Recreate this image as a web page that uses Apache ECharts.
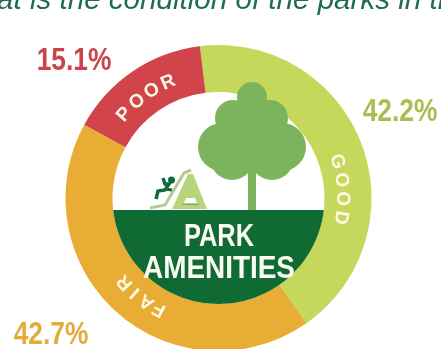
<!DOCTYPE html>
<html><head><meta charset="utf-8">
<style>html,body{margin:0;padding:0;background:#fff}#c{width:441px;height:349px}</style>
<script src="https://cdn.jsdelivr.net/npm/echarts@6/dist/echarts.min.js"></script>
</head><body><div id="c"></div>
<script>
const categories = ['GOOD', 'FAIR', 'POOR'];
const values = [42.2, 42.7, 15.1];
const colors = ['#c5d85c', '#e9ac35', '#d1444a'];
const valueColors = ['#a9bd50', '#e3aa3c', '#c9444b'];
const valueLabelSpots = [[400, 112], [51, 335], [74, 61]];
const ringLabelAngles = [86, 218, -36];
const ringLabelSpacing = [8.7, 6.6, 8.3];
const ringLabelRadius = [124, 126, 126];
const titleText = 'at is the condition of the parks in th';
const centerLines = ['PARK', 'AMENITIES'];

const cx = 218.5, cy = 198, rIn = 106, rOut = 153;
const sans = '"Liberation Sans",sans-serif';
const g = [];

// page heading, cropped by the top of the picture
g.push({type:'text', x:-3, y:15, z:5, scaleX:1.02, silent:true, style:{text:titleText, font:'italic 500 29px ' + sans, fill:'#1f6e4b', textVerticalAlign:'bottom', textAlign:'left'}});

// ground
const groundY = 210, pts = [];
const a0 = Math.asin((groundY - cy) / rIn);
for (let i = 0; i <= 60; i++) {
  const a = a0 + (Math.PI - 2 * a0) * i / 60;
  pts.push([cx + rIn * Math.cos(a), cy + rIn * Math.sin(a)]);
}
g.push({type:'polygon', silent:true, z:5, shape:{points:pts}, style:{fill:'#0f6a33'}});

// tree
const treeC = '#7cb45e';
[[252,97,15],[233,118,18],[270,118,18],[222,147,24],[282,147,24],[252,135,35],[232,158,22],[272,158,22]].forEach(c =>
  g.push({type:'circle', silent:true, z:6, shape:{cx:c[0], cy:c[1], r:c[2]}, style:{fill:treeC}}));
g.push({type:'rect', silent:true, z:6, shape:{x:248, y:170, width:8, height:40}, style:{fill:treeC}});

// slide
const slideC = '#b7d57c';
g.push({type:'polygon', silent:true, z:6, shape:{points:[[188,174],[193,174],[207,209],[172,209]]}, style:{fill:slideC}});
g.push({type:'polygon', silent:true, z:6, shape:{points:[[186,198],[195,198],[197,203],[184,203]]}, style:{fill:'#fff'}});
g.push({type:'line', silent:true, z:6, shape:{x1:182,y1:204.5,x2:199,y2:204.5}, style:{stroke:'#8f9d7c',lineWidth:1}});
g.push({type:'polyline', silent:true, z:6, shape:{points:[[150,208],[165,205],[184,173],[191,170]]}, style:{stroke:'#b5c89a',lineWidth:3,fill:'none'}});
g.push({type:'circle', silent:true, z:6, shape:{cx:171.5, cy:180, r:3.5}, style:{fill:'#11693a'}});
g.push({type:'polyline', silent:true, z:6, shape:{points:[[163,178],[165,184],[169,184],[165,190],[158,191],[156,199]]}, style:{stroke:'#11693a',lineWidth:3.5,fill:'none'}});
g.push({type:'polyline', silent:true, z:6, shape:{points:[[165,189],[172,190]]}, style:{stroke:'#11693a',lineWidth:3,fill:'none'}});

// centre words
const centerScale = [0.82, 0.9];
centerLines.forEach((t, i) => g.push({type:'text', silent:true, x:cx + 0.5, y:[237, 269][i], z:20, scaleX:centerScale[i],
  style:{text:t, font:'bold 31px ' + sans, fill:'#fbfbf2', textAlign:'center', textVerticalAlign:'middle'}}));

// curved words in the ring
categories.forEach((name, k) => {
  const letters = name.split('');
  letters.forEach((ch, i) => {
    const deg = ringLabelAngles[k] + (i - (letters.length - 1) / 2) * ringLabelSpacing[k];
    const rad = deg * Math.PI / 180;
    g.push({type:'text', silent:true, z:20, x:cx + ringLabelRadius[k] * Math.sin(rad), y:cy - ringLabelRadius[k] * Math.cos(rad),
      rotation:-rad,
      style:{text:ch, font:'bold 19px ' + sans, fill:'#fdf8e6', textAlign:'center', textVerticalAlign:'middle'}});
  });
  // value labels
  g.push({type:'text', silent:true, z:20, x:valueLabelSpots[k][0], y:valueLabelSpots[k][1], scaleX:0.85,
    style:{text:values[k].toFixed(1) + '%', font:'bold 31px ' + sans, fill:valueColors[k], textAlign:'center', textVerticalAlign:'middle'}});
});

const chart = echarts.init(document.getElementById('c'), null, {renderer:'canvas'});
chart.setOption({
  animation:false,
  backgroundColor:'#fff',
  series:[{
    type:'pie', silent:true, center:[cx, cy], radius:[rIn, rOut], startAngle:97, clockwise:true,
    data:categories.map((n, i) => ({name:n, value:values[i], itemStyle:{color:colors[i]}})),
    label:{show:false},
    labelLine:{show:false},
    emphasis:{disabled:true}
  }],
  graphic:{elements:g}
});
</script></body></html>
